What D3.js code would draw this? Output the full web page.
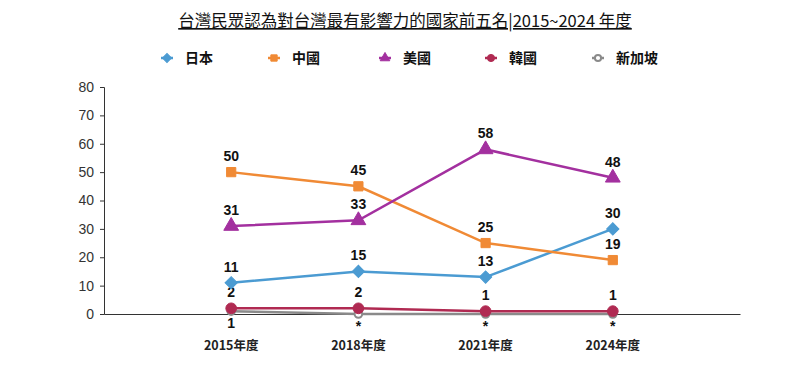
<!DOCTYPE html>
<html><head><meta charset="utf-8">
<script src="https://cdn.jsdelivr.net/npm/d3@7"></script>
<style>body{margin:0;background:#fff;} text{font-family:"Noto Sans CJK TC","Liberation Sans",sans-serif;}</style>
</head><body><svg id="c" width="800" height="366"></svg>
<script>
const categories = ["2015年度","2018年度","2021年度","2024年度"];
const seriesNames = ["日本","中國","美國","韓國","新加坡"];
const japan = [11,15,13,30];
const china = [50,45,25,19];
const usa = [31,33,58,48];
const korea = [2,2,1,1];
const singapore = [1,0,0,0];
const singaporeLabels = ["1","*","*","*"];
const yTicks = [0,10,20,30,40,50,60,70,80];
const colors = ["#4b9bd2","#f08a35","#a3309f","#b02a52","#8a8a8a"];
const symbols = [d3.symbolSquare, d3.symbolSquare, d3.symbolTriangle, d3.symbolCircle, d3.symbolCircle];
const rotations = [45,0,0,0,0];

const svg = d3.select("#c");
const x = d3.scaleLinear().domain([0,5]).range([104,740]);
const y = d3.scaleLinear().domain([0,80]).range([314,87]);

// title
svg.append("text").attr("x",405).attr("y",27).attr("text-anchor","middle")
  .attr("font-size",16.5).attr("fill","#111").attr("text-decoration","underline")
  .text("台灣民眾認為對台灣最有影響力的國家前五名|2015~2024 年度");

// y axis
const ya = svg.append("g").attr("transform","translate(104,0)")
  .call(d3.axisLeft(y).tickValues(yTicks).tickSize(4).tickPadding(6));
ya.selectAll("text").attr("font-size",14).attr("fill","#333").style("font-family","Liberation Sans, sans-serif");
ya.selectAll("line,path").attr("stroke","#333");

// x axis
const xa = svg.append("g").attr("transform","translate(0,314)")
  .call(d3.axisBottom(x).tickValues([1,2,3,4]).tickSize(0).tickPadding(0).tickFormat(""));
xa.selectAll("path").attr("stroke","#333");
svg.selectAll(".xl").data(categories).enter().append("text")
  .attr("x",(d,i)=>x(i+1)).attr("y",350).attr("text-anchor","middle")
  .attr("font-size",12.5).attr("font-weight","bold").attr("fill","#222").text(d=>d);

const data = [japan,china,usa,korea,singapore];
const line = d3.line().x((d,i)=>x(i+1)).y(d=>y(d));
const symSizes = [75,85,95,90,45];

const order = [4,3,0,1,2];
order.forEach(s=>{
  const g = svg.append("g");
  g.append("path").datum(data[s]).attr("d",line).attr("fill","none")
    .attr("stroke",colors[s]).attr("stroke-width",2.5);
  g.selectAll("path.m").data(data[s]).enter().append("path")
    .attr("transform",(d,i)=>`translate(${x(i+1)},${y(d)}) rotate(${rotations[s]})`)
    .attr("d",d3.symbol().type(symbols[s]).size(symSizes[s]))
    .attr("fill",s===4?"#fff":colors[s]).attr("stroke",colors[s]).attr("stroke-width",s===4?2:1);
  g.selectAll("text").data(data[s]).enter().append("text")
    .attr("x",(d,i)=>x(i+1)).attr("y",(d)=> s===4 ? y(d)+17 : y(d)-11)
    .attr("text-anchor","middle").attr("font-size",14).attr("font-weight","bold").attr("fill","#111")
    .style("font-family","Liberation Sans, sans-serif")
    .text((d,i)=> s===4 ? singaporeLabels[i] : d);
});

// legend
const legX = [167,274,385,491,598];
seriesNames.forEach((n,s)=>{
  const g = svg.append("g").attr("transform",`translate(${legX[s]},58)`);
  g.append("line").attr("x1",-6).attr("x2",6).attr("stroke",colors[s]).attr("stroke-width",2.5);
  g.append("path").attr("transform",`rotate(${rotations[s]})`)
    .attr("d",d3.symbol().type(symbols[s]).size(s===4?30:40))
    .attr("fill",s===4?"#fff":colors[s]).attr("stroke",colors[s]).attr("stroke-width",s===4?2:1);
  g.append("text").attr("x",18).attr("y",5).attr("font-size",14).attr("font-weight","bold")
    .attr("fill","#111").text(n);
});
</script></body></html>
